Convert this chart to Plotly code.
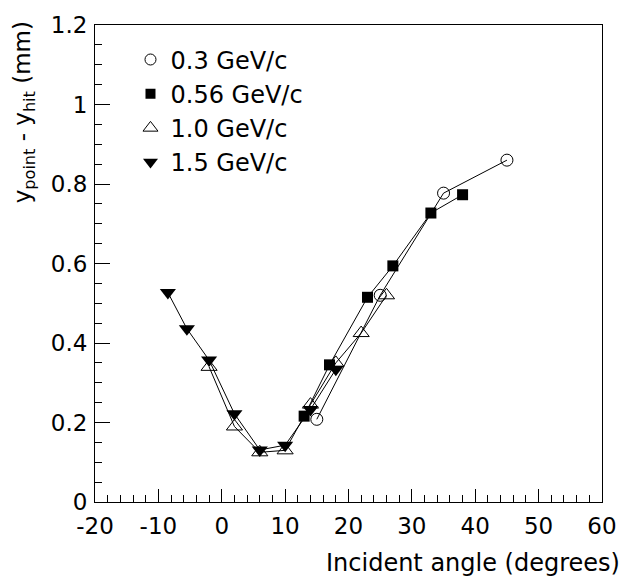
import plotly.graph_objects as go

# ---- data ----
x_03 = [15, 25, 35, 45]
y_03 = [0.208, 0.52, 0.777, 0.86]

x_056 = [13, 17, 23, 27, 33, 38]
y_056 = [0.216, 0.345, 0.515, 0.594, 0.727, 0.773]

x_10 = [-2, 2, 6, 10, 14, 18, 22, 26]
y_10 = [0.34, 0.19, 0.125, 0.13, 0.245, 0.35, 0.425, 0.52]

x_15 = [-8.5, -5.5, -2, 2, 6, 10, 14, 18]
y_15 = [0.527, 0.436, 0.357, 0.222, 0.131, 0.143, 0.233, 0.334]

labels = ["0.3 GeV/c", "0.56 GeV/c", "1.0 GeV/c", "1.5 GeV/c"]

x_tickvals = [-20, -10, 0, 10, 20, 30, 40, 50, 60]
x_ticktext = ["-20", "-10", "0", "10", "20", "30", "40", "50", "60"]
y_tickvals = [0, 0.2, 0.4, 0.6, 0.8, 1.0, 1.2]
y_ticktext = ["0", "0.2", "0.4", "0.6", "0.8", "1", "1.2"]

FONT = "DejaVu Sans"
FS = 23

series = [
    (x_03, y_03, labels[0], dict(symbol="circle-open", size=12, color="black", line=dict(width=1, color="black"))),
    (x_056, y_056, labels[1], dict(symbol="square", size=11, color="black", line=dict(width=0))),
    (x_10, y_10, labels[2], dict(symbol="triangle-up-open", size=14, color="black", line=dict(width=1, color="black"))),
    (x_15, y_15, labels[3], dict(symbol="triangle-down", size=14, color="black", line=dict(width=0))),
]

fig = go.Figure()
for xs, ys, name, mk in series:
    fig.add_trace(go.Scatter(x=xs, y=ys, mode="lines+markers", name=name,
                             line=dict(color="black", width=1), marker=mk,
                             showlegend=False))
# legend entries (markers only)
for i, (xs, ys, name, mk) in enumerate(series):
    lm = dict(mk)
    lm["size"] = mk["size"] - 1
    fig.add_trace(go.Scatter(x=[None], y=[None], mode="markers", name=name,
                             marker=lm, showlegend=True, legendgroup=f"g{i}"))

fig.update_layout(
    width=629, height=579,
    margin=dict(l=95, r=21, t=21, b=77),
    paper_bgcolor="white", plot_bgcolor="white",
    font=dict(family=FONT, size=FS, color="black"),
    showlegend=True,
    legend=dict(x=0.07, y=0.974, xanchor="left", yanchor="top",
                bgcolor="rgba(0,0,0,0)", borderwidth=0,
                font=dict(family=FONT, size=24), itemwidth=30,
                tracegroupgap=0),
)

fig.update_xaxes(range=[-20, 60], tickmode="array", tickvals=x_tickvals, ticktext=x_ticktext,
                 showline=True, linecolor="black", linewidth=1, mirror=True,
                 ticks="inside", ticklen=13, tickcolor="black", tickwidth=1,
                 minor=dict(ticks="inside", ticklen=7, dtick=2, tick0=0, tickcolor="black"),
                 showgrid=False, zeroline=False, ticklabelstandoff=3,
                 tickfont=dict(family=FONT, size=FS))
fig.update_yaxes(range=[0, 1.2], tickmode="array", tickvals=y_tickvals, ticktext=y_ticktext,
                 showline=True, linecolor="black", linewidth=1, mirror=True,
                 ticks="inside", ticklen=15, tickcolor="black", tickwidth=1,
                 minor=dict(ticks="inside", ticklen=7, dtick=0.05, tick0=0, tickcolor="black"),
                 showgrid=False, zeroline=False, ticklabelstandoff=2,
                 tickfont=dict(family=FONT, size=FS))

fig.add_annotation(text="Incident angle (degrees)", xref="paper", yref="paper",
                   x=1.04, y=-0.128, xanchor="right", yanchor="middle",
                   showarrow=False, font=dict(family=FONT, size=24))
fig.add_annotation(text="y<sub>point</sub> - y<sub>hit</sub> (mm)", xref="paper", yref="paper",
                   x=-0.14, y=1.012, xanchor="center", yanchor="top", textangle=-90,
                   showarrow=False, font=dict(family=FONT, size=FS))

fig.write_html("out.html")
